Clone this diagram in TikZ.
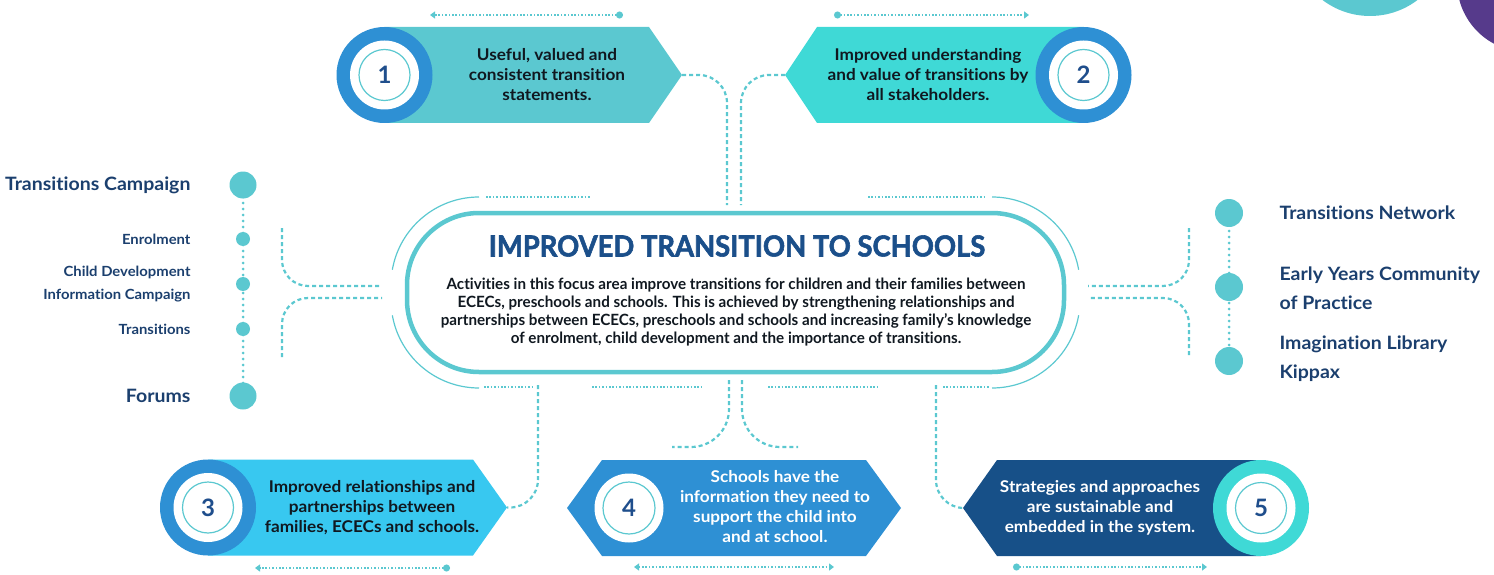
\documentclass[tikz,border=0pt]{standalone}
\usepackage{fontspec}
\setmainfont[Ligatures=NoCommon]{Lato}
\newfontfamily\condfont[FakeStretch=0.98,Ligatures=NoCommon]{Lato}
\newfontfamily\titlefont[FakeStretch=0.945,FakeBold=2,Ligatures=NoCommon]{Lato}
\newfontfamily\widefont[FakeStretch=1.06,Ligatures=NoCommon]{Lato}
\usetikzlibrary{arrows.meta}
\definecolor{teal1}{HTML}{5BC8D0}
\definecolor{turq}{HTML}{3FD9D6}
\definecolor{sky}{HTML}{38C8F0}
\definecolor{blue1}{HTML}{2E90D4}
\definecolor{navy}{HTML}{175088}
\definecolor{numblue}{HTML}{1F4E8C}
\definecolor{listblue}{HTML}{1B3F6E}
\definecolor{titleblue}{HTML}{1B4F8A}
\definecolor{purp}{HTML}{563A8B}
\definecolor{ink}{HTML}{101820}
\begin{document}
\begin{tikzpicture}[x=1pt,y=-1pt,
  conn/.style={draw=teal1, line width=2.2pt, dash pattern=on 4pt off 3pt, rounded corners=28pt},
  fine/.style={draw=teal1, line width=1.6pt, dash pattern=on 1.6pt off 1.8pt},
  thinarc/.style={draw=teal1, line width=1.2pt},
  dotend/.style={fine, arrows={Circle[length=7pt,width=7pt]-Triangle[length=5pt,width=7pt]}},
  bothend/.style={fine, arrows={Triangle[length=5pt,width=7pt]-Triangle[length=5pt,width=7pt]}},
  num/.style={font=\bfseries\fontsize{24}{24}\selectfont, text=numblue},
  boxtext/.style={font=\widefont\bfseries\fontsize{16.2}{20}\selectfont, align=center, text=ink},
  boxtextw/.style={boxtext, text=white},
  listbig/.style={font=\widefont\bfseries\fontsize{18.4}{29}\selectfont, text=listblue},
  listsmall/.style={font=\widefont\bfseries\fontsize{14}{23}\selectfont, text=listblue},
  ring/.style={draw=teal1, line width=1.2pt},
]
\useasboundingbox (0,0) rectangle (1494,575);
\begin{scope}
\clip (0,0) rectangle (1494,575);
\fill[teal1] (1370,-62.5) circle[radius=78.5pt];
\fill[purp] (1527,-18) circle[radius=70pt];
\end{scope}

% ---------- central frame ----------
\draw[teal1, line width=4.5pt, rounded corners=72pt] (407,213) rectangle (1064,372);
\node[font=\titlefont\bfseries\fontsize{29}{29}\selectfont, text=titleblue] (title) at (737,246) {IMPROVED TRANSITION TO SCHOOLS};
\node[font=\condfont\bfseries\fontsize{15.5}{18}\selectfont, align=center, text=ink] (body) at (736,312)
 {Activities in this focus area improve transitions for children and their families between\\
  ECECs, preschools and schools. This is achieved by strengthening relationships and\\
  partnerships between ECECs, preschools and schools and increasing family’s knowledge\\
  of enrolment, child development and the importance of transitions.};

% outer thin arcs
\draw[thinarc] (479,197) arc[start angle=90, end angle=170, radius=88pt];
\draw[thinarc] (479,388) arc[start angle=270, end angle=190, radius=88pt];
\draw[thinarc] (992,197) arc[start angle=90, end angle=10, radius=88pt];
\draw[thinarc] (992,388) arc[start angle=270, end angle=350, radius=88pt];

% fine dotted lines around frame
\coordinate (d1a) at (486,197); \coordinate (d1b) at (591,197);
\coordinate (d2a) at (868,197); \coordinate (d2b) at (986,197);
\coordinate (d3a) at (484,387); \coordinate (d3b) at (533,387);
\coordinate (d4a) at (592,387); \coordinate (d4b) at (702,387);
\coordinate (d5a) at (768,387); \coordinate (d5b) at (877,387);
\coordinate (d6a) at (943,387); \coordinate (d6b) at (990,387);
\foreach \a/\b in {d1a/d1b,d2a/d2b,d3a/d3b,d4a/d4b,d5a/d5b,d6a/d6b}
  \draw[fine] (\a) -- (\b);

% ---------- box 1 ----------
\fill[teal1] (384.5,27) -- (649,27) -- (682,75) -- (649,123) -- (384.5,123) -- cycle;
\fill[blue1] (384.5,75) circle[radius=48pt];
\fill[white] (384.5,75) circle[radius=34.5pt];
\draw[ring] (384.5,75) circle[radius=25.5pt];
\node[num] (n1) at (384.5,75) {1};
\node[boxtext] (b1) at (547,75) {Useful, valued and\\consistent transition\\statements.};
\coordinate (t1) at (682,75);

% ---------- box 2 ----------
\fill[turq] (785,75) -- (817,27) -- (1083.5,27) -- (1083.5,123) -- (817,123) -- cycle;
\fill[blue1] (1083.5,75) circle[radius=48pt];
\fill[white] (1083.5,75) circle[radius=34.5pt];
\draw[ring] (1083.5,75) circle[radius=25.5pt];
\node[num] (n2) at (1083.5,75) {2};
\node[boxtext] (b2) at (928,75) {Improved understanding\\and value of transitions by\\all stakeholders.};
\coordinate (t2) at (785,75);

% ---------- box 3 ----------
\fill[sky] (208,459.5) -- (473,459.5) -- (507,507.5) -- (473,555.5) -- (208,555.5) -- cycle;
\fill[blue1] (208,507.5) circle[radius=48pt];
\fill[white] (208,507.5) circle[radius=34.5pt];
\draw[ring] (208,507.5) circle[radius=25.5pt];
\node[num] (n3) at (208,507.5) {3};
\node[boxtext] (b3) at (372,507.5) {Improved relationships and\\partnerships between\\families, ECECs and schools.};
\coordinate (t3) at (507,507.5);

% ---------- box 4 ----------
\fill[blue1] (567,508) -- (602,460) -- (866,460) -- (901,508) -- (866,556) -- (602,556) -- cycle;
\fill[white] (629,508) circle[radius=34.5pt];
\draw[ring] (629,508) circle[radius=26pt];
\node[num] (n4) at (629,508) {4};
\node[boxtextw] (b4) at (775,507) {Schools have the\\information they need to\\support the child into\\and at school.};

% ---------- box 5 ----------
\fill[navy] (963,508) -- (997,460) -- (1261,460) -- (1261,556) -- (997,556) -- cycle;
\fill[turq] (1261,508) circle[radius=48pt];
\fill[white] (1261,508) circle[radius=34.5pt];
\draw[ring] (1261,508) circle[radius=25.5pt];
\node[num] (n5) at (1261,508) {5};
\node[boxtextw] (b5) at (1100,508) {Strategies and approaches\\are sustainable and\\embedded in the system.};
\coordinate (t5) at (963,508);

% ---------- small arrows ----------
\coordinate (a1s) at (623,15); \coordinate (a1e) at (430,15);
\coordinate (a2s) at (834,15); \coordinate (a2e) at (1029,15);
\coordinate (a3s) at (450,568); \coordinate (a3e) at (255,568);
\coordinate (a4s) at (634,567); \coordinate (a4e) at (834,567);
\coordinate (a5s) at (1013,567); \coordinate (a5e) at (1207,567);
\draw[dotend] (a1s) -- (a1e);
\draw[dotend] (a2s) -- (a2e);
\draw[dotend] (a3s) -- (a3e);
\draw[bothend] (a4s) -- (a4e);
\draw[dotend] (a5s) -- (a5e);

% ---------- dashed connectors ----------
\coordinate (c1) at (727,205);
\coordinate (c2) at (741,205);
\draw[conn] (t1) -- (727,75) -- (c1);
\draw[conn] (t2) -- (741,75) -- (c2);
\coordinate (c3) at (538,385);
\draw[conn] (c3) -- (538,507.5) -- (t3);
\coordinate (c5) at (936,385);
\draw[conn] (c5) -- (936,508) -- (t5);
\coordinate (c4a) at (729,380); \coordinate (c4b) at (742,380);
\coordinate (e4a) at (672,447); \coordinate (e4b) at (798,447);
\draw[conn, rounded corners=38pt] (c4a) -- (729,447) -- (e4a);
\draw[conn, rounded corners=38pt] (c4b) -- (742,447) -- (e4b);
% left
\coordinate (l1) at (282,228); \coordinate (l1e) at (382,286);
\coordinate (l2) at (282,357); \coordinate (l2e) at (382,298);
\draw[conn, rounded corners=26pt] (l1) -- (282,286) -- (l1e);
\draw[conn, rounded corners=26pt] (l2) -- (282,298) -- (l2e);
% right
\coordinate (r1) at (1189,228); \coordinate (r1e) at (1088,286);
\coordinate (r2) at (1189,355); \coordinate (r2e) at (1088,298);
\draw[conn, rounded corners=26pt] (r1) -- (1189,286) -- (r1e);
\draw[conn, rounded corners=26pt] (r2) -- (1189,298) -- (r2e);

% ---------- left list ----------
\draw[teal1, line width=3pt, line cap=round, dash pattern=on 0pt off 6pt] (243,185) -- (243,396);
\fill[teal1] (243,185) circle[radius=13.5pt];
\fill[teal1] (243,239) circle[radius=7pt];
\fill[teal1] (243,284) circle[radius=7pt];
\fill[teal1] (243,329) circle[radius=7pt];
\fill[teal1] (243,396) circle[radius=13.5pt];
\node[listbig, anchor=east] (lt1) at (194,185) {Transitions Campaign};
\node[listsmall, anchor=east] (lt2) at (194,239) {Enrolment};
\node[listsmall, anchor=east, align=right] (lt3) at (194,284) {Child Development\\Information Campaign};
\node[listsmall, anchor=east] (lt4) at (194,329) {Transitions};
\node[listbig, anchor=east] (lt5) at (194,396) {Forums};

% ---------- right list ----------
\draw[teal1, line width=3pt, line cap=round, dash pattern=on 0pt off 6pt] (1229,213) -- (1229,361);
\fill[teal1] (1229,213) circle[radius=14pt];
\fill[teal1] (1229,287) circle[radius=14pt];
\fill[teal1] (1229,361) circle[radius=14pt];
\node[listbig, anchor=west] (rt1) at (1276,213) {Transitions Network};
\node[listbig, anchor=west, align=left] (rt2) at (1276,288) {Early Years Community\\of Practice};
\node[listbig, anchor=west, align=left] (rt3) at (1276,359) {Imagination Library\\Kippax};
\end{tikzpicture}
\end{document}
